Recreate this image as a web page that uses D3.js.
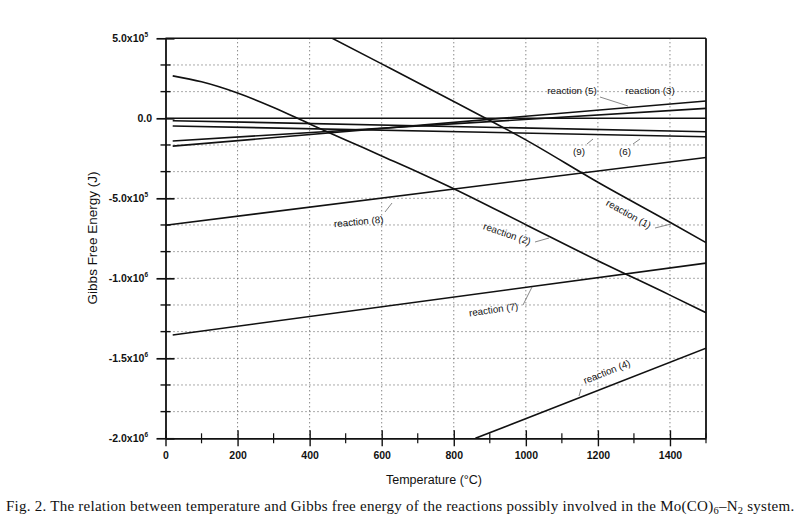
<!DOCTYPE html>
<html>
<head>
<meta charset="utf-8">
<script src="https://cdn.jsdelivr.net/npm/d3@7"></script>
<style>
  html, body { margin: 0; padding: 0; background: #fff; }
  svg { display: block; }
</style>
</head>
<body>
<svg id="chart" width="801" height="528"></svg>
<script>
// ---- data (temperature in °C, Gibbs free energy in kJ; converted to J when drawn) ----
const reaction1 = [[450, 515], [600, 340], [800, 105], [1000, -135], [1200, -400], [1400, -650], [1500, -777]];
const reaction2 = [[20, 265], [100, 228], [200, 158], [300, 68], [400, -35], [500, -135], [600, -235], [700, -335], [800, -440], [1000, -665], [1200, -890], [1400, -1105], [1500, -1215]];
const reaction3 = [[20, -142], [1500, 62]];
const reaction4 = [[860, -2000], [1500, -1437]];
const reaction5 = [[20, -174], [1500, 108]];
const reaction6 = [[20, -48], [1500, -115]];
const reaction7 = [[20, -1354], [1500, -905]];
const reaction8 = [[0, -668], [1500, -245]];
const reaction9 = [[20, -15], [1500, -84]];
const zeroLine = [[0, 0], [1500, 0]];

const xTickValues = [0, 200, 400, 600, 800, 1000, 1200, 1400];
const xMinorTickValues = [100, 300, 500, 700, 900, 1100, 1300, 1500];
const yTickValues = [5e5, 0, -5e5, -1e6, -1.5e6, -2e6];
const yTickMantissa = ["5.0x10", "0.0", "-5.0x10", "-1.0x10", "-1.5x10", "-2.0x10"];
const yTickExponent = ["5", "", "5", "6", "6", "6"];

const xTitle = "Temperature (°C)";
const yTitle = "Gibbs Free Energy (J)";

// ---- layout ----
const svg = d3.select("#chart");
const x = d3.scaleLinear().domain([0, 1500]).range([165.5, 706]);
const y = d3.scaleLinear().domain([-2e6, 5e5]).range([438.3, 38.3]);
const toJ = d => [d[0], d[1] * 1000];

const fontSans = "Arial, 'Liberation Sans', Helvetica, sans-serif";

// grid
const yGrid = d3.range(0, 16).map(i => -2e6 + i * 5e5 / 3).filter(v => Math.abs(v) > 1 && v < 5e5 - 1 && v > -2e6 + 1);
svg.append("g").selectAll("line").data(yGrid).join("line")
  .attr("x1", x(0)).attr("x2", x(1500))
  .attr("y1", d => y(d)).attr("y2", d => y(d))
  .attr("stroke", "#555").attr("stroke-width", 1)
  .attr("stroke-dasharray", "1,3");
svg.append("g").selectAll("line").data(xTickValues.filter(v => v > 0)).join("line")
  .attr("x1", d => x(d)).attr("x2", d => x(d))
  .attr("y1", y(5e5)).attr("y2", y(-2e6))
  .attr("stroke", "#555").attr("stroke-width", 1)
  .attr("stroke-dasharray", "1,3");

// clip
svg.append("clipPath").attr("id", "plotclip").append("rect")
  .attr("x", x(0)).attr("y", y(5e5)).attr("width", x(1500) - x(0)).attr("height", y(-2e6) - y(5e5));

const line = d3.line().x(d => x(d[0])).y(d => y(d[1])).curve(d3.curveMonotoneX);
const series = [reaction1, reaction2, reaction3, reaction4, reaction5, reaction6, reaction7, reaction8, reaction9, zeroLine];
svg.append("g").attr("clip-path", "url(#plotclip)").selectAll("path").data(series).join("path")
  .attr("d", d => line(d.map(toJ)))
  .attr("fill", "none").attr("stroke", "#111").attr("stroke-width", 1.6);

// frame: top & right
svg.append("line").attr("x1", x(0)).attr("x2", x(1500)).attr("y1", y(5e5)).attr("y2", y(5e5)).attr("stroke", "#111").attr("stroke-width", 1.4);
svg.append("line").attr("x1", x(1500)).attr("x2", x(1500)).attr("y1", y(5e5)).attr("y2", y(-2e6)).attr("stroke", "#111").attr("stroke-width", 1.8);

// x axis
const xAxis = d3.axisBottom(x).tickValues(xTickValues).tickSize(0).tickFormat(d3.format("d"));
const gx = svg.append("g").attr("transform", `translate(0,${y(-2e6)})`).call(xAxis);
gx.select(".domain").attr("stroke", "#111").attr("stroke-width", 1.8);
gx.selectAll("text").attr("font-family", fontSans).attr("font-size", 10.5).attr("font-weight", "bold").attr("fill", "#111").attr("dy", "1.65em");
gx.selectAll(".tick").append("line").attr("y1", -8).attr("y2", 8).attr("stroke", "#111").attr("stroke-width", 1.4);
svg.append("g").selectAll("line").data(xMinorTickValues).join("line")
  .attr("x1", d => x(d)).attr("x2", d => x(d))
  .attr("y1", y(-2e6) - 5).attr("y2", y(-2e6) + 5).attr("stroke", "#111").attr("stroke-width", 1.2);

// y axis
const yAxis = d3.axisLeft(y).tickValues(yTickValues).tickSize(0).tickFormat(() => "");
const gy = svg.append("g").attr("transform", `translate(${x(0)},0)`).call(yAxis);
gy.select(".domain").attr("stroke", "#111").attr("stroke-width", 1.8);
gy.selectAll(".tick").append("line").attr("x1", -9).attr("x2", 9).attr("stroke", "#111").attr("stroke-width", 1.7);
const yMinor = d3.range(0, 16).map(i => -2e6 + i * 5e5 / 3).filter(v => !yTickValues.some(t => Math.abs(t - v) < 1));
svg.append("g").selectAll("line").data(yMinor).join("line")
  .attr("x1", x(0) - 5).attr("x2", x(0) + 5)
  .attr("y1", d => y(d)).attr("y2", d => y(d)).attr("stroke", "#111").attr("stroke-width", 1.4);

const yLab = svg.append("g").selectAll("text").data(yTickValues).join("text")
  .attr("x", (d, i) => yTickExponent[i] ? 148 : 152)
  .attr("y", d => y(d) + 4)
  .attr("text-anchor", "end")
  .attr("font-family", fontSans).attr("font-size", 10.5).attr("font-weight", "bold").attr("fill", "#111");
yLab.each(function(d, i) {
  const t = d3.select(this);
  t.append("tspan").text(yTickMantissa[i]);
  if (yTickExponent[i]) {
    t.append("tspan").attr("dy", -5).attr("font-size", 6.5).text(yTickExponent[i]);
  }
});

// axis titles
svg.append("text").attr("x", 434).attr("y", 484).attr("text-anchor", "middle")
  .attr("font-family", fontSans).attr("font-size", 12.5).attr("fill", "#111").text(xTitle);
svg.append("text").attr("transform", `translate(97,${238}) rotate(-90)`).attr("text-anchor", "middle")
  .attr("font-family", fontSans).attr("font-size", 13.5).attr("fill", "#111").text(yTitle);

// annotations
const labels = [
  { text: "reaction (5)", x: 572, y: 94, angle: 0, leader: [[600, 97], [628, 106]] },
  { text: "reaction (3)", x: 650, y: 94, angle: 0, leader: null },
  { text: "(9)", x: 579, y: 155, angle: 0, leader: [[587, 144], [593, 139]] },
  { text: "(6)", x: 625, y: 155, angle: 0, leader: [[633, 144], [640, 139]] },
  { text: "reaction (1)", x: 627, y: 217, angle: 29, leader: [[655, 228], [671, 224]] },
  { text: "reaction (2)", x: 506, y: 237, angle: 19, leader: [[535, 242], [549, 238]] },
  { text: "reaction (8)", x: 359, y: 225, angle: -5, leader: [[385, 212], [392, 203]] },
  { text: "reaction (7)", x: 494, y: 313, angle: -8, leader: [[523, 305], [532, 287]] },
  { text: "reaction (4)", x: 608, y: 375, angle: -21.5, leader: [[581, 389], [579, 396]] }
];
const lg = svg.append("g");
labels.forEach(l => {
  lg.append("text")
    .attr("transform", `translate(${l.x},${l.y}) rotate(${l.angle})`)
    .attr("text-anchor", "middle")
    .attr("font-family", fontSans).attr("font-size", 9.8).attr("fill", "#111")
    .text(l.text);
  if (l.leader) {
    lg.append("line").attr("x1", l.leader[0][0]).attr("y1", l.leader[0][1])
      .attr("x2", l.leader[1][0]).attr("y2", l.leader[1][1])
      .attr("stroke", "#555").attr("stroke-width", 0.7);
  }
});

// caption
const cap = svg.append("text").attr("x", 6).attr("y", 511)
  .attr("font-family", "'Liberation Serif', 'Times New Roman', serif").attr("font-size", 15).attr("letter-spacing", 0.25).attr("fill", "#111");
cap.append("tspan").text("Fig. 2. The relation between temperature and Gibbs free energy of the reactions possibly involved in the Mo(CO)");
cap.append("tspan").attr("dy", 3).attr("font-size", 10.5).text("6");
cap.append("tspan").attr("dy", -3).text("–N");
cap.append("tspan").attr("dy", 3).attr("font-size", 10.5).text("2");
cap.append("tspan").attr("dy", -3).text(" system.");
</script>
</body>
</html>
